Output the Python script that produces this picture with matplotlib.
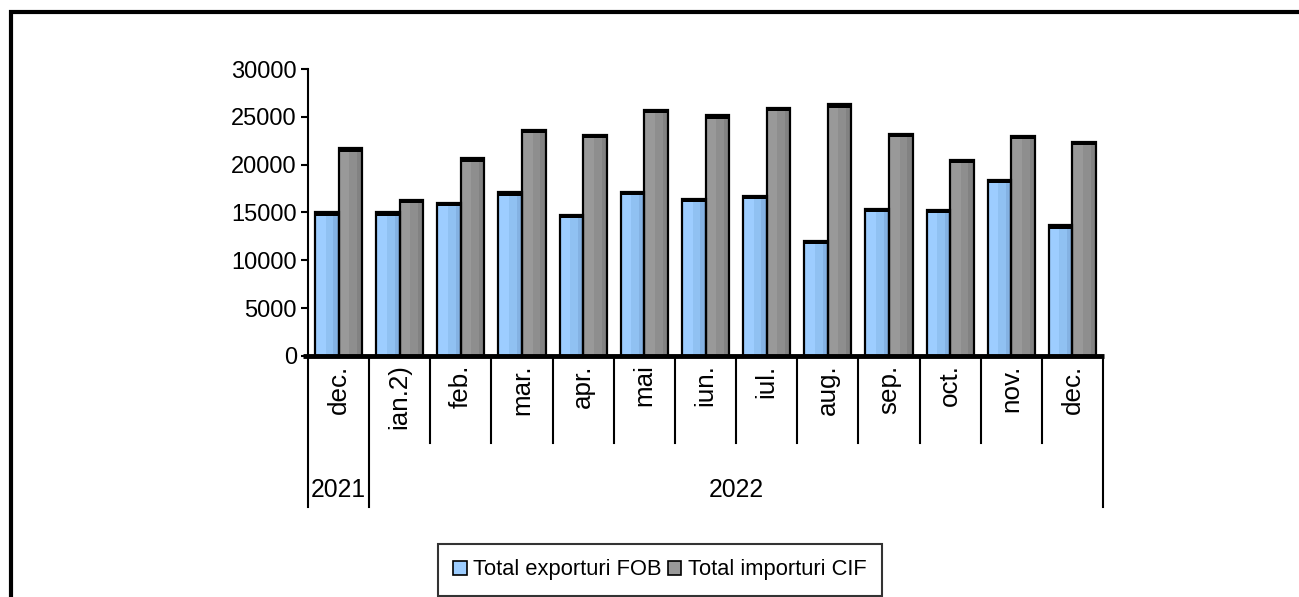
import matplotlib
matplotlib.use("Agg")
import matplotlib.pyplot as plt
from matplotlib.patches import Rectangle, Patch
from matplotlib.transforms import blended_transform_factory
from matplotlib import font_manager

months = ["dec.", "ian.2)", "feb.", "mar.", "apr.", "mai", "iun.", "iul.",
          "aug.", "sep.", "oct.", "nov.", "dec."]
years = ["2021", "2022"]
year_spans = [(0, 1), (1, 13)]
exports = [15000, 15000, 16000, 17100, 14750, 17150, 16400, 16700,
           12000, 15400, 15300, 18400, 13650]
imports = [21700, 16300, 20650, 23600, 23100, 25750, 25150, 25900,
           26300, 23200, 20500, 23000, 22400]
series_names = ["Total exporturi FOB", "Total importuri CIF"]
yticks = [0, 5000, 10000, 15000, 20000, 25000, 30000]

names = {f.name for f in font_manager.fontManager.ttflist}
if "Liberation Sans Narrow" in names:
    FONT = "Liberation Sans Narrow"; k = 1.0
else:
    FONT = "Liberation Sans"; k = 0.85
plt.rcParams["font.family"] = [FONT, "DejaVu Sans"]

W, H = 1299, 597
fig = plt.figure(figsize=(W / 100, H / 100), dpi=100)
ax = fig.add_axes([308 / W, 1 - 356 / H, 795 / W, 287 / H])

n = len(months)
bw = 0.385
off = 0.115
blue = ["#9DCDFF", "#90C1F2", "#84B2E3"]
gray = ["#999999", "#8E8E8E", "#828282"]
fr = [0.45, 0.33, 0.22]
cap = 330

for i in range(n):
    for s, (vals, cols) in enumerate([(exports, blue), (imports, gray)]):
        x0 = i - 0.5 + off + s * bw
        v = vals[i]
        xs = x0
        for f, c in zip(fr, cols):
            ax.bar(xs, v, width=bw * f, align="edge", color=c, lw=0, zorder=2)
            xs += bw * f
        ax.bar(x0, v, width=bw, align="edge", fill=False, edgecolor="black",
               lw=1.6, zorder=3)
        ax.bar(x0, cap, bottom=v - cap, width=bw, align="edge", color="black",
               lw=0, zorder=4)

ax.set_xlim(-0.5, n - 0.5)
ax.set_ylim(0, 30000)
for sp in ["top", "right", "bottom"]:
    ax.spines[sp].set_visible(False)
ax.spines["left"].set_linewidth(1.5)
ax.set_yticks(yticks)
ax.set_yticklabels([str(t) for t in yticks])
ax.tick_params(axis="y", direction="out", length=5, width=1.5, pad=3,
               labelsize=20 * k)
ax.set_xticks([])
ax.plot([-0.58, n - 0.48], [0, 0], color="black", lw=3.5, clip_on=False,
        zorder=5, solid_capstyle="butt")

tr = blended_transform_factory(ax.transData, ax.transAxes)
year_bounds = {b for sp in year_spans for b in sp}
for b in range(n + 1):
    depth = -0.526 if b in year_bounds else -0.303
    ax.plot([b - 0.5, b - 0.5], [0, depth], color="black", lw=1.5,
            transform=tr, clip_on=False)
for i, m in enumerate(months):
    ax.text(i, -0.03, m, rotation=90, ha="center", va="top", transform=tr,
            fontsize=22 * k)
for y, (a, b) in zip(years, year_spans):
    ax.text((a + b - 1) / 2, -0.467, y, ha="center", va="center",
            transform=tr, fontsize=21 * k)

handles = [Patch(facecolor=blue[0], edgecolor="black", lw=1.2),
           Patch(facecolor=gray[0], edgecolor="black", lw=1.2)]
leg = fig.legend(handles, series_names, loc="center",
                 bbox_to_anchor=(660 / W, 1 - 570 / H), ncol=2,
                 fontsize=18.5 * k, frameon=True, fancybox=False,
                 edgecolor="black", handlelength=0.6, handleheight=0.6,
                 handletextpad=0.3, columnspacing=0.3, borderpad=0.7,
                 borderaxespad=0)
leg.get_frame().set_linewidth(1.5)

fig.add_artist(Rectangle((11 / W, -0.2), 1.5, 1.2 - 12 / H, fill=False,
                         lw=3, edgecolor="black", transform=fig.transFigure))

fig.savefig("out.png", dpi=100)
